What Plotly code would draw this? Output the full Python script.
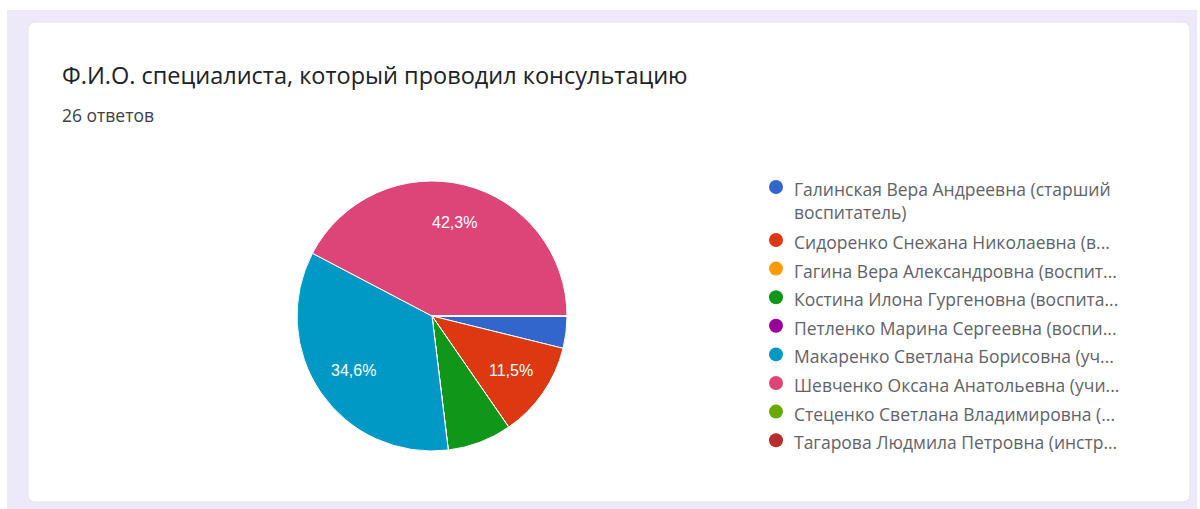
import math
import plotly.graph_objects as go

W, H = 1200, 509

labels = [
    "Галинская Вера Андреевна (старший<br>воспитатель)",
    "Сидоренко Снежана Николаевна (в...",
    "Гагина Вера Александровна (воспит...",
    "Костина Илона Гургеновна (воспита...",
    "Петленко Марина Сергеевна (воспи...",
    "Макаренко Светлана Борисовна (уч...",
    "Шевченко Оксана Анатольевна (учи...",
    "Стеценко Светлана Владимировна (...",
    "Тагарова Людмила Петровна (инстр...",
]
values = [1, 3, 0, 2, 0, 9, 11, 0, 0]
colors = ["#3366cc", "#dc3912", "#ff9900", "#109618", "#990099",
          "#0099c6", "#dd4477", "#66aa00", "#b82e2e"]

title_text = "Ф.И.О. специалиста, который проводил консультацию"
subtitle_text = "26 ответов"

total = sum(values)


def px(x):
    return x / W


def py(y):
    return 1 - y / H


# pie geometry (pixels)
CX, CY, R = 432, 316, 135

fig = go.Figure()
fig.add_trace(go.Pie(
    labels=labels,
    values=values,
    sort=False,
    direction="clockwise",
    rotation=90,
    marker=dict(colors=colors, line=dict(color="white", width=1)),
    textinfo="none",
    domain=dict(x=[px(CX - R), px(CX + R)], y=[py(CY + R), py(CY - R)]),
    showlegend=False,
    hoverinfo="label+value+percent",
))

shapes = [
    dict(type="rect", xref="paper", yref="paper", x0=px(7), x1=px(1197), y0=0, y1=py(10),
         fillcolor="#ede9f8", line=dict(width=0), layer="below"),
    dict(type="path", xref="paper", yref="paper", layer="below",
         path=(f"M {px(36)} {py(22)} L {px(1182)} {py(22)} Q {px(1190)} {py(22)} {px(1190)} {py(30)} "
               f"L {px(1190)} {py(494)} Q {px(1190)} {py(502)} {px(1182)} {py(502)} "
               f"L {px(36)} {py(502)} Q {px(28)} {py(502)} {px(28)} {py(494)} "
               f"L {px(28)} {py(30)} Q {px(28)} {py(22)} {px(36)} {py(22)} Z"),
         fillcolor="white", line=dict(color="#e4e1ec", width=1)),
]

annotations = [
    dict(text=title_text, x=px(60), y=py(75), xref="paper", yref="paper",
         xanchor="left", yanchor="middle", showarrow=False,
         font=dict(family="Open Sans", size=23.5, color="#202124")),
    dict(text=subtitle_text, x=px(60), y=py(115), xref="paper", yref="paper",
         xanchor="left", yanchor="middle", showarrow=False,
         font=dict(family="Open Sans", size=17.5, color="#3c4043")),
]

# slice percentage labels, placed from the data (clockwise from 3 o'clock)
cum = 0
for v in values:
    frac = v / total
    if frac >= 0.1:
        mid = (cum + v / 2) / total * 2 * math.pi
        tx = CX + 0.71 * R * math.cos(mid)
        ty = CY + 0.71 * R * math.sin(mid)
        annotations.append(dict(text=f"{frac * 100:.1f}%".replace(".", ","),
                                x=px(tx), y=py(ty), xref="paper", yref="paper",
                                xanchor="center", yanchor="middle", showarrow=False,
                                font=dict(family="Liberation Sans, Arial", size=16, color="white")))
    cum += v

# legend built from the data lists
y = 187
for lab, col in zip(labels, colors):
    shapes.append(dict(type="circle", xref="paper", yref="paper",
                       x0=px(769), x1=px(783), y0=py(y + 7), y1=py(y - 7),
                       fillcolor=col, line=dict(width=0)))
    nlines = lab.count("<br>") + 1
    annotations.append(dict(text=lab, x=px(792), y=py(y - 12), xref="paper", yref="paper",
                            xanchor="left", yanchor="top", align="left", showarrow=False,
                            font=dict(family="Open Sans", size=17.5, color="#5f6368")))
    y += 28.6 + (nlines - 1) * 24.4

fig.update_layout(
    width=W, height=H,
    margin=dict(l=0, r=0, t=0, b=0),
    paper_bgcolor="white",
    plot_bgcolor="white",
    separators=", ",
    shapes=shapes,
    annotations=annotations,
)

fig.write_html("out.html", config={"displayModeBar": False},
               post_script="document.body.style.margin='0';")
